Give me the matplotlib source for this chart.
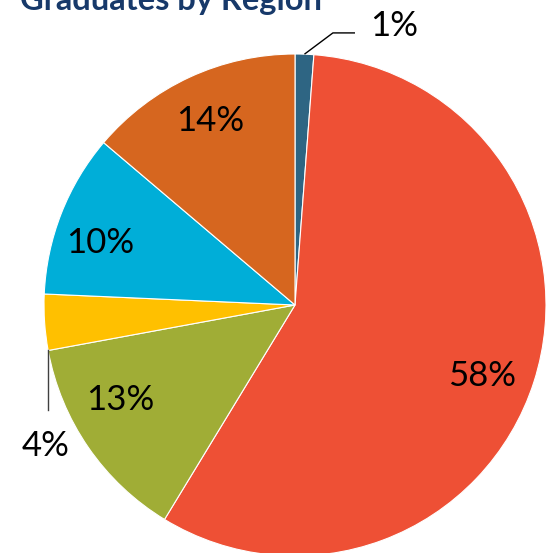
import numpy as np
import matplotlib
matplotlib.use('Agg')
import matplotlib.pyplot as plt

# share of graduates per region, clockwise from 12 o'clock
shares = [1.2, 57.5, 13.4, 3.6, 10.5, 13.8]
labels = ['1%', '58%', '13%', '4%', '10%', '14%']
colors = ['#2E6583', '#EE5035', '#A0AD36', '#FFC000', '#00AED8', '#D6661F']
title = 'Graduates by Region'

# where Excel's "best fit" put the inside labels: nudge from mid-angle (deg), radius
label_nudge = [0, -2.2, -6.8, 0, 3.0, -0.3]
label_dist = [0, 0.793, 0.788, 0, 0.819, 0.818]

W, H = 556, 553
cx, cy, r = 295, 305, 251

fig = plt.figure(figsize=(W / 100, H / 100), dpi=100)
ax = fig.add_axes([(cx - r) / W, (H - cy - r) / H, 2 * r / W, 2 * r / H])

wedges, _ = ax.pie(shares, colors=colors, startangle=90, counterclock=False,
                   radius=1, wedgeprops=dict(edgecolor='white', linewidth=0.8))
ax.set_xlim(-1, 1)
ax.set_ylim(-1, 1)
ax.axis('off')
for w in wedges:
    w.set_clip_on(False)

font = ['Lato', 'DejaVu Sans']
fs = 25

for w, lab, nd, d in zip(wedges, labels, label_nudge, label_dist):
    if lab in ('1%', '4%'):
        continue
    mid = np.deg2rad((w.theta1 + w.theta2) / 2 + nd)
    ax.text(d * np.cos(mid), d * np.sin(mid), lab, ha='center',
            va='center_baseline', fontsize=fs, family=font, color='black')

# 1% label with leader line
w = wedges[0]
mid = np.deg2rad((w.theta1 + w.theta2) / 2)
p0 = (np.cos(mid), np.sin(mid))
ax.plot([p0[0], 0.151, 0.239], [p0[1], 1.084, 1.084], color='black', lw=1,
        clip_on=False, solid_capstyle='butt')
ax.text(0.30, 1.122, labels[0], ha='left', va='center_baseline', fontsize=fs,
        family=font, color='black')

# 4% label with leader line from the lower edge of its wedge
w = wedges[3]
edge = np.deg2rad(w.theta2)
p0 = (np.cos(edge), np.sin(edge))
ax.plot([p0[0], p0[0]], [p0[1], -0.418], color='#404040', lw=1, clip_on=False)
ax.text(p0[0] - 0.01, -0.550, labels[3], ha='center', va='center_baseline',
        fontsize=fs, family=font, color='black')

fig.text(171 / W, 1 - 10 / H, title, ha='center', va='baseline', fontsize=23.5,
         fontweight='bold', family=font, color='#17396A')

fig.savefig('out.png', dpi=100)
